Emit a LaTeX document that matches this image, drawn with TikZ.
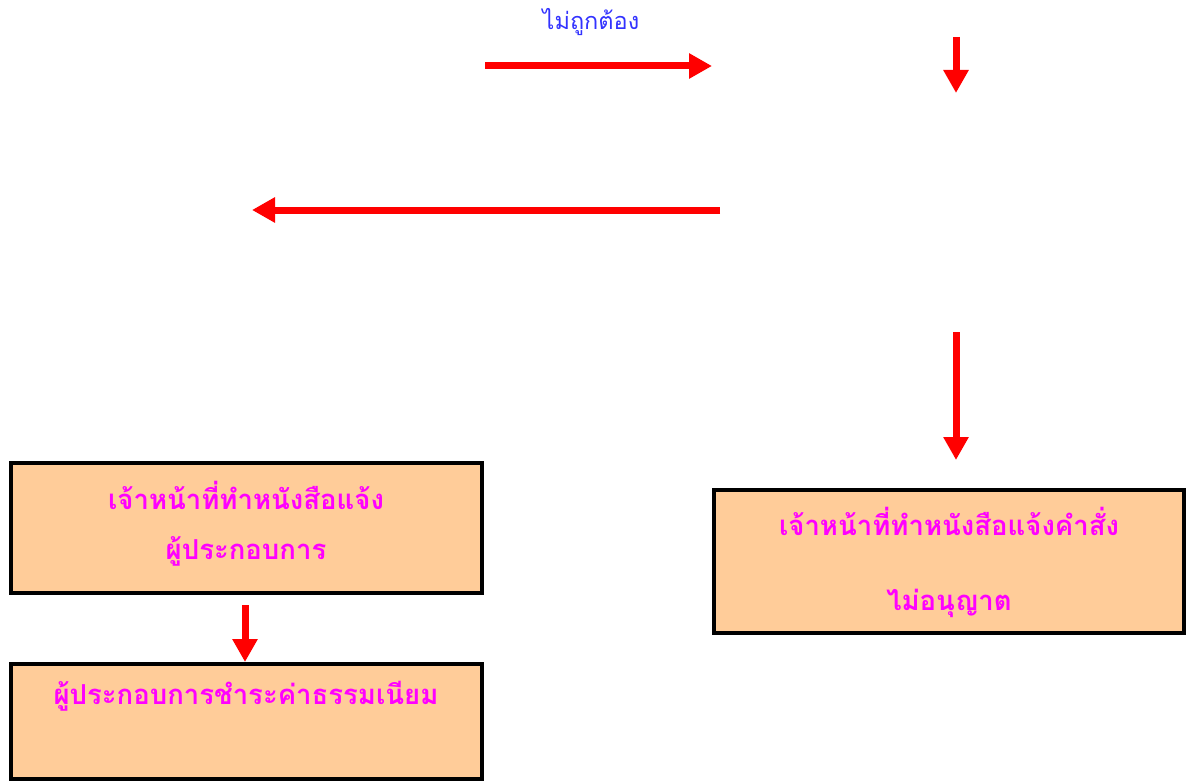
\documentclass[tikz,border=0pt]{standalone}
\usepackage{fontspec}
\usetikzlibrary{arrows.meta}
\newfontfamily\thaifont[Script=Thai]{Loma}
\definecolor{peach}{HTML}{FFCC99}
\definecolor{mag}{HTML}{FF00FF}
\definecolor{lblue}{HTML}{3333FF}
\tikzset{
  boxst/.style={draw=black, line width=4pt, fill=peach, rectangle, inner sep=0pt},
  boxtext/.style={font=\thaifont\bfseries\fontsize{27.5}{32}\selectfont, text=mag, inner sep=0pt, anchor=center},
  redarrow/.style={draw=red, line width=7pt, -{Triangle[width=24pt,length=23pt]}},
  lbl/.style={font=\thaifont\fontsize{23.5}{28}\selectfont, text=lblue, inner sep=0pt}
}
\begin{document}
\begin{tikzpicture}[x=1pt,y=-1pt]
\useasboundingbox (0,0) rectangle (1186,781);
% boxes
\node[boxst, minimum width=471pt, minimum height=130pt] (A) at (246.5,528) {};
\node[boxst, minimum width=470pt, minimum height=143pt] (B) at (949,561.5) {};
\node[boxst, minimum width=471pt, minimum height=115pt] (C) at (246.5,721.5) {};
% texts
\node[boxtext] (A1) at (246,495) {เจ้าหน้าที่ทำหนังสือแจ้ง};
\node[boxtext] (A2) at (246,551) {ผู้ประกอบการ};
\node[boxtext] (B1) at (949,521) {เจ้าหน้าที่ทำหนังสือแจ้งคำสั่ง};
\node[boxtext] (B2) at (949,603) {ไม่อนุญาต};
\node[boxtext] (C1) at (246,696) {ผู้ประกอบการชำระค่าธรรมเนียม};
% label
\node[lbl] (L) at (591,22) {ไม่ถูกต้อง};
% arrow coordinates
\coordinate (r1s) at (485,66);
\coordinate (r1e) at (712,66);
\coordinate (l1s) at (720,210);
\coordinate (l1e) at (252,210);
\coordinate (d1s) at (956,37);
\coordinate (d1e) at (956,93);
\coordinate (d2s) at (956,332);
\coordinate (d2e) at (956,460);
\coordinate (d3s) at (245,605);
% arrows
\draw[redarrow] (r1s) -- (r1e);
\draw[redarrow] (l1s) -- (l1e);
\draw[redarrow] (d1s) -- (d1e);
\draw[redarrow] (d2s) -- (d2e);
\draw[redarrow] (d3s) -- (d3s |- C.north);
\end{tikzpicture}
\end{document}
